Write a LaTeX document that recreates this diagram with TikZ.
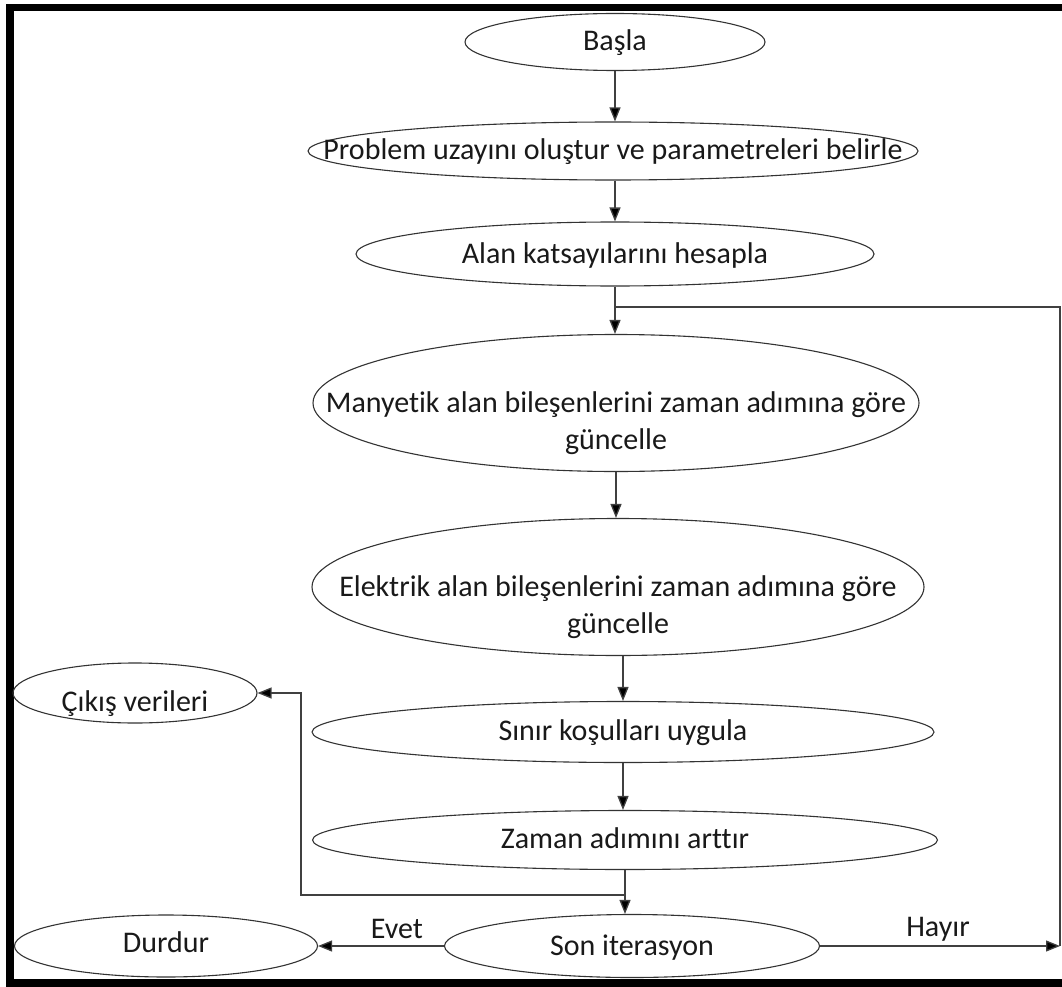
\documentclass[tikz,border=0pt]{standalone}
\usepackage{fontspec}
\setmainfont{Carlito}[Ligatures=NoCommon]
\usetikzlibrary{shapes.geometric,arrows.meta}
\begin{document}
\begin{tikzpicture}[x=1pt,y=-1pt,
  el/.style={draw=black!80, line width=1.1pt, ellipse, inner sep=0pt},
  txt/.style={inner sep=0pt, align=center, text=black!90, font=\fontsize{30}{36.7}\selectfont},
  conn/.style={draw=black!75, line width=1.3pt},
  arr/.style={conn, -{Triangle[length=14pt,width=11pt,fill=black]}},
  lbl/.style={inner sep=0pt, text=black!90, font=\fontsize{30}{34}\selectfont}]
\useasboundingbox (0,0) rectangle (1062,987);
% frame
\fill[black] (6,4) rectangle (1062,11);
\fill[black] (6,4) rectangle (14,987);
\fill[black] (6,979) rectangle (1062,987);
% ellipses
\node[el, minimum width=300pt, minimum height=57pt] (basla) at (615,42) {};
\node[el, minimum width=610pt, minimum height=58pt] (prob) at (613,151) {};
\node[el, minimum width=518pt, minimum height=64pt] (alan) at (615,254) {};
\node[el, minimum width=606pt, minimum height=137pt] (many) at (616,403) {};
\node[el, minimum width=612pt, minimum height=137pt] (elek) at (618,587) {};
\node[el, minimum width=622pt, minimum height=61pt] (sinir) at (623,732) {};
\node[el, minimum width=625pt, minimum height=59pt] (zaman) at (625,840) {};
\node[el, minimum width=375pt, minimum height=63pt] (son) at (632,946) {};
\node[el, minimum width=244pt, minimum height=60pt] (cikis) at (135,693) {};
\node[el, minimum width=303pt, minimum height=62pt] (durdur) at (166,946) {};
% texts
\node[txt, anchor=base] (bt) at ([yshift=-9pt]basla.center) {Başla};
\node[txt, anchor=base] (pt) at ([yshift=-9pt]prob.center) {Problem uzayını oluştur ve parametreleri belirle};
\node[txt, anchor=base] (at) at ([yshift=-9pt]alan.center) {Alan katsayılarını hesapla};
\node[txt] (mt) at ([yshift=-20pt]many.center) {Manyetik alan bileşenlerini zaman adımına göre\\güncelle};
\node[txt] (et) at ([yshift=-20pt]elek.center) {Elektrik alan bileşenlerini zaman adımına göre\\güncelle};
\node[txt, anchor=base] (st) at ([yshift=-8pt]sinir.center) {Sınır koşulları uygula};
\node[txt, anchor=base] (zt) at ([yshift=-8pt]zaman.center) {Zaman adımını arttır};
\node[txt, anchor=base] (sot) at ([yshift=-9pt]son.center) {Son iterasyon};
\node[txt, anchor=base] (ct) at ([yshift=-18pt]cikis.center) {Çıkış verileri};
\node[txt, anchor=base] (dt) at ([yshift=-6pt]durdur.center) {Durdur};
% helper coordinates
\coordinate (j1) at (615,307);
\coordinate (rc) at (1060,944);
\coordinate (j2) at (625,895);
\coordinate (lc) at (301,693);
% connectors
\draw[arr] (basla.south) -- (basla.south |- prob.north);
\draw[arr] (prob.south -| basla.south) -- (basla.south |- alan.north);
\draw[arr] (alan.south) -- (alan.south |- many.north);
\draw[arr] (many.south) -- (many.south |- elek.north);
\draw[arr] (elek.south -| sinir.north) -- (sinir.north);
\draw[arr] (sinir.south) -- (sinir.south |- zaman.north);
\draw[arr] (zaman.south) -- (zaman.south |- son.north);
\draw[arr] (j2) -| (lc) -- (cikis.east);
\draw[arr] (son.west) -- (durdur.east);
\draw[arr] (son.east) -- (son.east -| rc);
\draw[conn] (son.east -| rc) -- (rc |- j1) -- (j1);
% labels
\node[lbl] (evet) at (397,929) {Evet};
\node[lbl] (hayir) at (938,929) {Hayır};
\end{tikzpicture}
\end{document}
